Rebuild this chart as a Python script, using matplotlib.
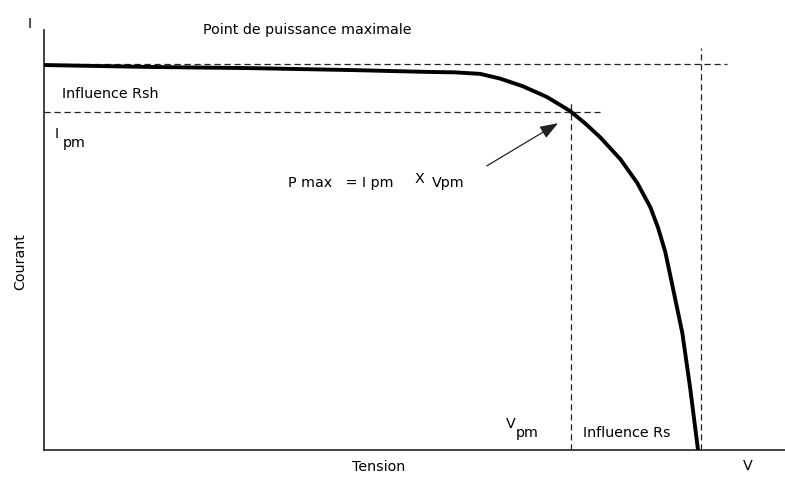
import matplotlib
matplotlib.use("Agg")
import matplotlib.pyplot as plt

# I-V curve (V normalised to Voc, I normalised to Isc)
tension = [0.0, 0.162, 0.315, 0.468, 0.590, 0.628, 0.667, 0.697, 0.732, 0.769, 0.804,
           0.827, 0.850, 0.881, 0.907, 0.927, 0.939, 0.950, 0.960, 0.976, 0.988, 1.0]
courant = [1.0, 0.995, 0.992, 0.987, 0.982, 0.981, 0.977, 0.965, 0.945, 0.917, 0.881,
           0.849, 0.813, 0.756, 0.694, 0.631, 0.577, 0.514, 0.434, 0.304, 0.161, 0.0]

v_pm, i_pm = 0.806, 0.878
v_oc, i_sc = 1.005, 1.003

plt.rcParams['font.family'] = ['DejaVu Sans']

fig = plt.figure(figsize=(7.85, 4.8), dpi=100)
ax = fig.add_axes([44 / 785, 30 / 480, 741 / 785, 420 / 480])

ax.plot(tension, courant, color='black', linewidth=2.8, solid_capstyle='butt',
        solid_joinstyle='round', zorder=3)

dash = dict(color='#222222', linewidth=0.9, linestyle=(0, (5, 3)))
ax.plot([0, 1.044], [i_sc, i_sc], **dash)
ax.plot([v_oc, v_oc], [0, 1.044], **dash)
ax.plot([0, 0.850], [i_pm, i_pm], **dash)
ax.plot([v_pm, v_pm], [0, 0.904], **dash)

ax.annotate('', xy=(0.786, 0.849), xytext=(0.677, 0.738),
            arrowprops=dict(arrowstyle='-|>,head_length=1.1,head_width=0.4',
                            color='#222222', linewidth=0.9, shrinkA=0, shrinkB=0))

ax.set_xlim(0, 1.133)
ax.set_ylim(0, 1.091)
for side in ['top', 'right']:
    ax.spines[side].set_visible(False)
for side in ['left', 'bottom']:
    ax.spines[side].set_color('#333333')
    ax.spines[side].set_linewidth(1.3)
ax.set_xticks([])
ax.set_yticks([])

def px(x, y):
    return x / 785, 1 - y / 480

fs = 10.3
fig.text(*px(30, 24), 'I', fontsize=fs, ha='center', va='center')
fig.text(*px(307, 30), 'Point de puissance maximale', fontsize=fs, ha='center', va='center')
fig.text(*px(62, 94), 'Influence Rsh', fontsize=fs, ha='left', va='center')
fig.text(*px(55, 134), 'I', fontsize=fs, ha='left', va='center')
fig.text(*px(63, 143), 'pm', fontsize=fs, ha='left', va='center')
fig.text(*px(288, 183), 'P max   = I pm', fontsize=fs, ha='left', va='center')
fig.text(*px(415, 179), 'X', fontsize=fs, ha='left', va='center')
fig.text(*px(432, 183), 'Vpm', fontsize=fs, ha='left', va='center')
fig.text(*px(506, 424), 'V', fontsize=fs, ha='left', va='center')
fig.text(*px(516, 433), 'pm', fontsize=fs, ha='left', va='center')
fig.text(*px(583, 433), 'Influence Rs', fontsize=fs, ha='left', va='center')
fig.text(*px(379, 467), 'Tension', fontsize=fs, ha='center', va='center')
fig.text(*px(748, 466), 'V', fontsize=fs, ha='center', va='center')
fig.text(*px(20, 262), 'Courant', fontsize=fs, ha='center', va='center', rotation=90)

fig.savefig('out.png', dpi=100)
